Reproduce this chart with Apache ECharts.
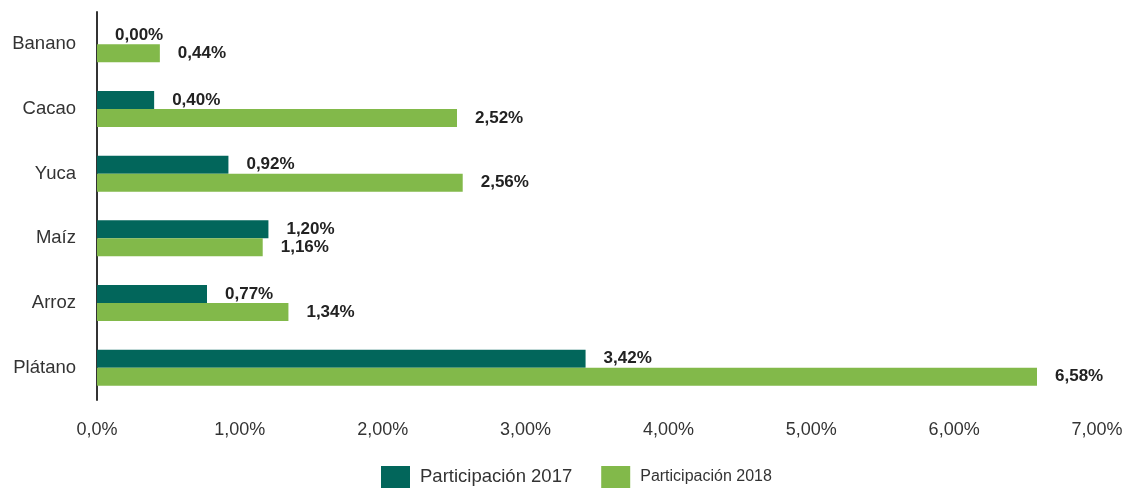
<!DOCTYPE html>
<html>
<head>
<meta charset="utf-8">
<script src="https://cdn.jsdelivr.net/npm/echarts@6/dist/echarts.min.js"></script>
<style>
  html, body { margin: 0; padding: 0; background: #fff; }
  #chart { width: 1131px; height: 488px; }
</style>
</head>
<body>
<div id="chart"></div>
<script>
// categories top to bottom
var categories = ['Banano', 'Cacao', 'Yuca', 'Maíz', 'Arroz', 'Plátano']
var values2017 = [0.00, 0.40, 0.92, 1.20, 0.77, 3.42]
var values2018 = [0.44, 2.52, 2.56, 1.16, 1.34, 6.58]
var xTicks = [0, 1, 2, 3, 4, 5, 6, 7]

var font = '"Liberation Sans Narrow", "Arial Narrow", "Liberation Sans", sans-serif'

function pct (v) {
  return v.toFixed(2).replace('.', ',') + '%'
}

var chart = echarts.init(document.getElementById('chart'))

var option = {
  animation: false,
  color: ['#02665b', '#82b94a'],
  grid: {
    left: 97,
    right: 34,
    top: 12,
    bottom: 88
  },
  legend: {
    bottom: 0,
    left: 381,
    padding: 0,
    itemWidth: 29,
    itemHeight: 22,
    itemGap: 29,
    icon: 'rect',
    textStyle: {
      fontFamily: font,
      color: '#333',
      padding: [0, 0, 0, 5]
    },
    data: [
      { name: 'Participación 2017', textStyle: { fontSize: 18.5 } },
      { name: 'Participación 2018', textStyle: { fontSize: 16 } }
    ]
  },
  xAxis: {
    type: 'value',
    min: xTicks[0],
    max: xTicks[xTicks.length - 1],
    interval: 1,
    axisLine: { show: false },
    axisTick: { show: false },
    splitLine: { show: false },
    axisLabel: {
      margin: 21,
      fontFamily: font,
      fontSize: 18,
      color: '#333',
      formatter: function (v) {
        return v === 0 ? '0,0%' : pct(v)
      }
    }
  },
  yAxis: {
    type: 'category',
    inverse: true,
    data: categories,
    axisLine: {
      show: true,
      lineStyle: { color: '#333', width: 2 }
    },
    axisTick: { show: false },
    axisLabel: {
      margin: 21,
      fontFamily: font,
      fontSize: 18.5,
      color: '#333'
    }
  },
  series: [
    {
      name: 'Participación 2017',
      type: 'bar',
      barWidth: 18,
      barGap: '0%',
      data: values2017
    },
    {
      name: 'Participación 2018',
      type: 'bar',
      barWidth: 18,
      barGap: '0%',
      data: values2018
    }
  ].map(function (s) {
    s.label = {
      show: true,
      position: 'right',
      distance: 18,
      fontFamily: font,
      fontWeight: 'bold',
      fontSize: 17,
      color: '#222',
      formatter: function (p) { return pct(p.value) }
    }
    return s
  })
}

chart.setOption(option)
</script>
</body>
</html>
